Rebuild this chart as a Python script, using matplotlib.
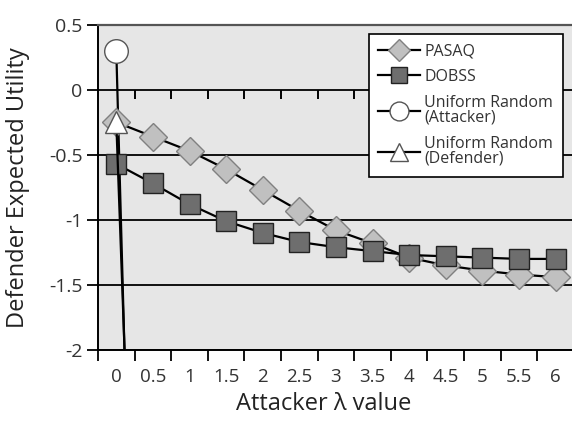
import matplotlib
matplotlib.use('Agg')
import matplotlib.pyplot as plt
import numpy as np

plt.rcParams['font.family'] = ['Open Sans', 'DejaVu Sans']
plt.rcParams['axes.unicode_minus'] = False

lam_labels = ['0', '0.5', '1', '1.5', '2', '2.5', '3', '3.5', '4', '4.5', '5', '5.5', '6']
pasaq = [-0.25, -0.36, -0.47, -0.61, -0.77, -0.93, -1.08, -1.18, -1.29, -1.35, -1.39, -1.42, -1.44]
dobss = [-0.57, -0.72, -0.88, -1.01, -1.10, -1.17, -1.21, -1.24, -1.27, -1.28, -1.29, -1.30, -1.30]
unif_att = [0.30, -10.0]
unif_def = [-0.25, -8.0]

x = np.arange(len(lam_labels))
bounds = x - 0.5

fig = plt.figure(figsize=(5.72, 4.23), dpi=100)
ax = fig.add_axes([0.1713, 0.1726, 0.832, 0.769])
ax.set_facecolor('#e6e6e6')

ax.plot(x[:2], unif_att, '-', color='black', lw=1.6, marker='o', ms=17,
        mfc='white', mec='#555555', mew=1.0, label='Uniform Random\n(Attacker)', zorder=3)
ax.plot(x, pasaq, '-', color='black', lw=1.6, marker='D', ms=14,
        mfc='#c0c0c0', mec='#808080', mew=1.0, label='PASAQ', zorder=4)
ax.plot(x, dobss, '-', color='black', lw=1.6, marker='s', ms=14,
        mfc='#6e6e6e', mec='#222222', mew=1.0, label='DOBSS', zorder=5)
ax.plot(x[:2], unif_def, '-', color='black', lw=1.6, marker='^', ms=16,
        mfc='white', mec='#555555', mew=1.0, label='Uniform Random\n(Defender)', zorder=6)

# tick marks hanging under the zero line, where the x axis crosses
ax.vlines(bounds[1:], -0.07, 0, color='black', lw=1.4, zorder=2.5)

ax.set_xlim(-0.5, 12.5)
ax.set_ylim(-2, 0.5)
ax.set_yticks([0.5, 0, -0.5, -1, -1.5, -2])
ax.set_yticklabels(['0.5', '0', '-0.5', '-1', '-1.5', '-2'])
ax.set_xticks(x)
ax.set_xticklabels(lam_labels)
ax.set_xticks(bounds, minor=True)
ax.tick_params(axis='x', which='major', length=0, pad=13, labelsize=13.5, labelcolor='#333333')
ax.tick_params(axis='x', which='minor', length=8, width=1.3, direction='out', color='black')
ax.tick_params(axis='y', length=8, width=1.3, labelsize=14, labelcolor='#333333', pad=3)

ax.yaxis.grid(True, color='black', lw=1.3)
ax.set_axisbelow(True)

for s in ['left', 'bottom']:
    ax.spines[s].set_color('black')
    ax.spines[s].set_linewidth(1.4)
ax.spines['top'].set_color('#555555')
ax.spines['top'].set_linewidth(1.6)
ax.spines['right'].set_visible(False)

ax.set_xlabel('Attacker \u03bb value', fontsize=17, color='#222222')
ax.xaxis.set_label_coords(0.475, -0.13)
ax.set_ylabel('Defender Expected Utility', fontsize=17, color='#222222')
ax.yaxis.set_label_coords(-0.142, 0.5)

h, l = ax.get_legend_handles_labels()
order = [1, 2, 0, 3]
leg = ax.legend([h[i] for i in order], [l[i] for i in order], loc='upper right',
                bbox_to_anchor=(0.977, 0.972), borderaxespad=0, fontsize=11.5,
                frameon=True, fancybox=False, edgecolor='black', framealpha=1,
                handlelength=2.6, labelspacing=0.6, borderpad=0.6,
                handletextpad=0.3, markerscale=0.8)
leg.get_frame().set_linewidth(1.2)
for t in leg.get_texts():
    t.set_color('#333333')
    t.set_linespacing(0.95)

fig.savefig('out.png', dpi=100)
